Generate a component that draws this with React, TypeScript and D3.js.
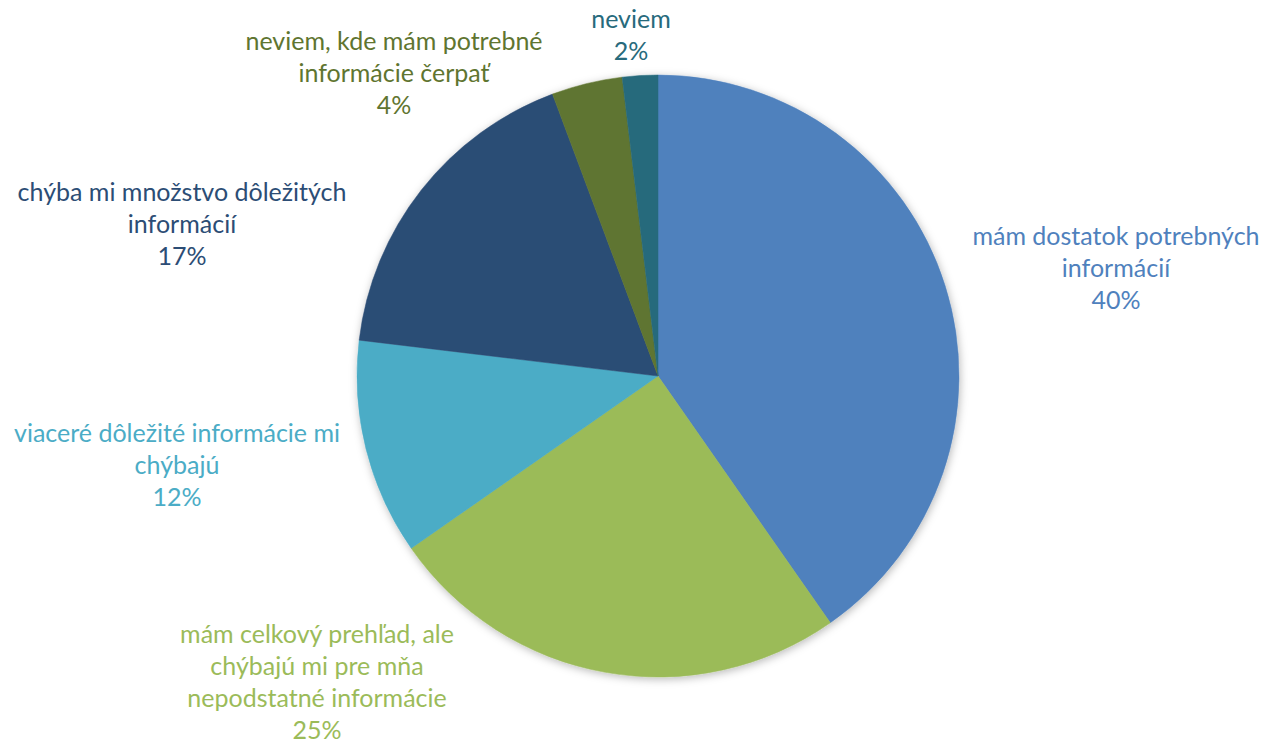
import React from "react";
import * as d3 from "d3";

const categories = [
  "mám dostatok potrebných informácií",
  "mám celkový prehľad, ale chýbajú mi pre mňa nepodstatné informácie",
  "viaceré dôležité informácie mi chýbajú",
  "chýba mi množstvo dôležitých informácií",
  "neviem, kde mám potrebné informácie čerpať",
  "neviem",
];
const values = [40.3, 25.0, 11.6, 17.4, 3.8, 1.9];
const percentLabels = ["40%", "25%", "12%", "17%", "4%", "2%"];
const labelLines = [
  ["mám dostatok potrebných", "informácií"],
  ["mám celkový prehľad, ale", "chýbajú mi pre mňa", "nepodstatné informácie"],
  ["viaceré dôležité informácie mi", "chýbajú"],
  ["chýba mi množstvo dôležitých", "informácií"],
  ["neviem, kde mám potrebné", "informácie čerpať"],
  ["neviem"],
];
const colors = ["#4F81BD", "#9BBB59", "#4BACC6", "#2C4D75", "#5F7530", "#276A7C"];

// layout: label block centre x and first baseline y
const labelAnchors: [number, number][] = [
  [1116, 245],
  [317, 643],
  [177, 442],
  [182, 201],
  [394, 50],
  [631, 28],
];

const W = 1264;
const H = 744;
const cx = 658;
const cy = 376;
const R = 301;
const LINE = 32;
const FONT = "Lato, 'Open Sans', sans-serif";

export default function App() {
  const pie = d3.pie<number>().sort(null).value((d) => d);
  const arcs = pie(values);
  const arc = d3.arc<d3.PieArcDatum<number>>().innerRadius(0).outerRadius(R);
  return (
    <svg width={W} height={H} style={{ position: "absolute", left: 0, top: 0 }}>
      <defs>
        <filter id="sh" x="-20%" y="-20%" width="140%" height="140%">
          <feDropShadow dx="1" dy="2" stdDeviation="4" floodColor="#000" floodOpacity="0.28" />
        </filter>
      </defs>
      <rect width={W} height={H} fill="#fff" />
      <g transform={`translate(${cx},${cy})`} filter="url(#sh)">
        {arcs.map((a, i) => (
          <path key={i} d={arc(a) || ""} fill={colors[i]} stroke={colors[i]} strokeWidth={0.5} />
        ))}
      </g>
      {labelLines.map((lines, i) => {
        const [x, y] = labelAnchors[i];
        const all = [...lines, percentLabels[i]];
        return (
          <text
            key={i}
            x={x}
            y={y}
            textAnchor="middle"
            fill={colors[i]}
            fontFamily={FONT}
            fontSize={25}
            aria-label={categories[i]}
          >
            {all.map((l, j) => (
              <tspan key={j} x={x} y={y + j * LINE}>
                {l}
              </tspan>
            ))}
          </text>
        );
      })}
    </svg>
  );
}
